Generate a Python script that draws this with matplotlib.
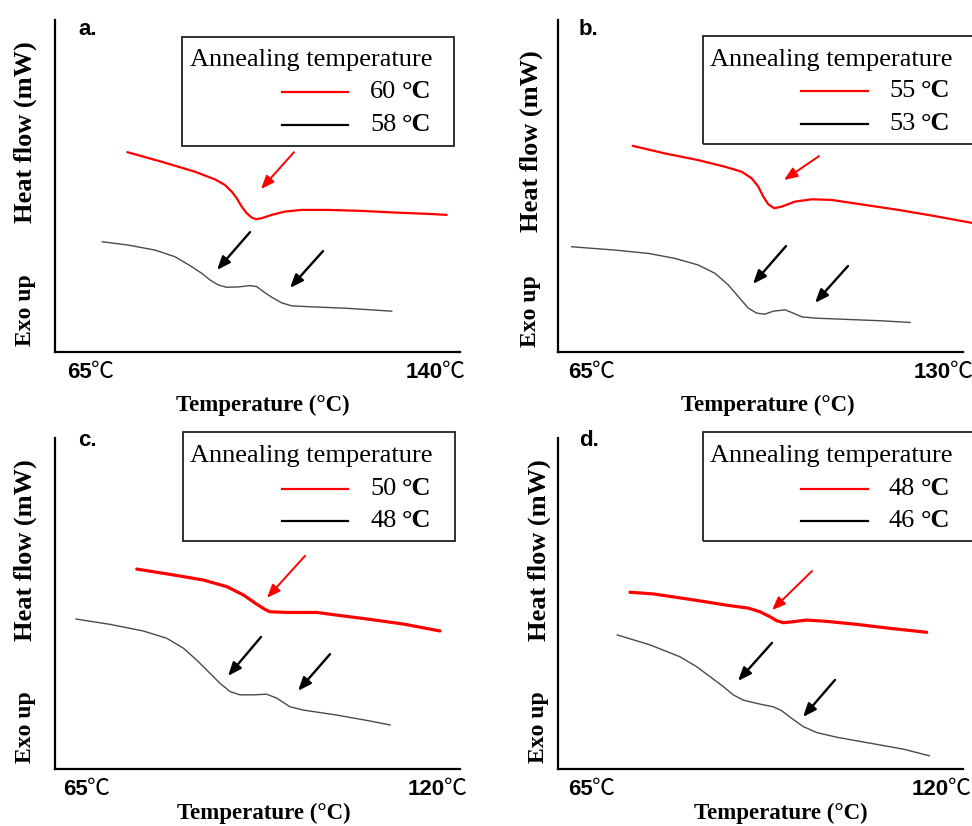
import matplotlib
matplotlib.use("Agg")
import matplotlib.pyplot as plt
from matplotlib.patches import Rectangle
from matplotlib.lines import Line2D
from matplotlib import transforms

# ---------------- data: DSC heating scans (heat flow in arbitrary units) ----------------
panel_ids = ["a.", "b.", "c.", "d."]
xlims = [(57.09, 143.63), (58.65, 132.18), (59.92, 122.31), (59.59, 122.16)]
tick_temps = [(65, 140), (65, 130), (65, 120), (65, 120)]
anneal_labels = [("60", "58"), ("55", "53"), ("50", "48"), ("48", "46")]

# panel a
a_hi_T = [72.54, 79.89, 87.01, 91.28, 93.42, 94.85, 95.92, 96.98, 98.05, 99.12, 100.04, 101.26,
          103.39, 106.24, 109.80, 115.49, 122.63, 129.74, 136.86, 140.79]
a_hi_q = [6.02, 5.73, 5.43, 5.20, 5.03, 4.83, 4.63, 4.38, 4.18, 4.05, 4.00, 4.03,
          4.13, 4.23, 4.28, 4.28, 4.25, 4.20, 4.16, 4.13]
a_lo_T = [67.20, 72.75, 78.46, 82.73, 86.30, 88.44, 90.21, 91.98, 93.78, 96.26, 98.76, 100.19,
          101.60, 103.39, 105.53, 107.67, 111.94, 119.06, 129.04]
a_lo_q = [3.32, 3.22, 3.07, 2.87, 2.57, 2.37, 2.17, 2.02, 1.95, 1.96, 2.00, 1.97,
          1.82, 1.65, 1.48, 1.39, 1.36, 1.32, 1.23]

# panel b
b_hi_T = [72.21, 78.08, 84.12, 88.97, 92.00, 93.82, 95.02, 95.92, 96.83, 97.92, 99.27, 101.68,
          104.71, 108.34, 114.39, 120.44, 126.50, 133.76]
b_hi_q = [6.21, 5.98, 5.78, 5.58, 5.43, 5.23, 4.98, 4.68, 4.45, 4.33, 4.38, 4.53,
          4.60, 4.58, 4.43, 4.28, 4.11, 3.89]
b_lo_T = [61.14, 69.00, 75.04, 79.89, 84.12, 87.15, 89.57, 91.39, 93.20, 94.73, 96.23, 97.74,
          99.86, 101.37, 102.90, 105.31, 111.36, 117.42, 122.56]
b_lo_q = [3.17, 3.07, 2.97, 2.82, 2.62, 2.37, 2.02, 1.67, 1.32, 1.17, 1.14, 1.23,
          1.27, 1.17, 1.06, 1.02, 0.98, 0.94, 0.89]

# panel c
c_hi_T = [72.51, 77.64, 82.77, 86.37, 88.93, 90.99, 92.27, 93.04, 95.62, 100.24, 103.32, 108.45,
          113.58, 119.23]
c_hi_q = [6.04, 5.88, 5.71, 5.51, 5.26, 4.98, 4.82, 4.75, 4.73, 4.73, 4.65, 4.52,
          4.38, 4.17]
c_lo_T = [63.16, 68.39, 73.52, 77.13, 79.69, 81.75, 83.80, 85.34, 86.88, 88.42, 90.47, 92.53,
          94.08, 96.12, 98.17, 103.32, 108.45, 111.53]
c_lo_q = [4.53, 4.37, 4.17, 3.95, 3.65, 3.29, 2.89, 2.59, 2.34, 2.24, 2.24, 2.26,
          2.14, 1.88, 1.78, 1.63, 1.45, 1.33]

# panel d
d_hi_T = [70.71, 74.31, 80.49, 85.65, 88.99, 90.80, 92.34, 93.38, 94.40, 95.94, 98.01, 101.10,
          105.74, 110.88, 116.55]
d_hi_q = [5.34, 5.29, 5.11, 4.95, 4.86, 4.75, 4.60, 4.48, 4.42, 4.45, 4.50, 4.46,
          4.37, 4.25, 4.13]
d_lo_T = [68.75, 73.80, 78.44, 81.02, 83.07, 85.13, 86.67, 88.22, 90.80, 92.85, 94.15, 95.69,
          97.49, 99.56, 102.65, 107.79, 112.94, 116.95]
d_lo_q = [4.05, 3.75, 3.39, 3.09, 2.79, 2.49, 2.24, 2.08, 1.96, 1.88, 1.76, 1.53,
          1.28, 1.10, 0.96, 0.78, 0.60, 0.40]

# transition markers: (tail T, tail q, head T, head q)
a_marks = [(108.16, 6.02, 101.11, 4.91), (98.76, 3.61, 91.71, 2.47), (114.36, 3.04, 107.30, 1.93)]
b_marks = [(106.04, 5.90, 99.68, 5.18), (100.05, 3.19, 94.05, 2.05), (111.30, 2.59, 105.31, 1.48)]
c_marks = [(98.44, 6.44, 92.58, 5.17), (91.66, 3.99, 86.57, 2.81), (102.29, 3.47, 97.36, 2.36)]
d_marks = [(98.83, 5.98, 92.65, 4.80), (92.65, 3.81, 87.40, 2.66), (102.38, 2.69, 97.44, 1.57)]

curves = [
    (a_hi_T, a_hi_q, a_lo_T, a_lo_q, a_marks),
    (b_hi_T, b_hi_q, b_lo_T, b_lo_q, b_marks),
    (c_hi_T, c_hi_q, c_lo_T, c_lo_q, c_marks),
    (d_hi_T, d_hi_q, d_lo_T, d_lo_q, d_marks),
]

# ---------------- layout ----------------
W, H = 972, 826
fig = plt.figure(figsize=(W / 100, H / 100), dpi=100)
fig.patch.set_facecolor("white")

# axes boxes in pixels: left, top, right, bottom
boxes = [(55, 20, 460, 352), (558, 20, 963, 352), (55, 438, 460, 769), (558, 438, 963, 769)]
red_lw = [1.6, 1.6, 2.3, 2.3]

# legend / label geometry (axes fractions)
legend_geo = [
    dict(x0=0.314, x1=0.985, y0=0.621, y1=0.949, tx=0.333, ty=0.880, l0=0.560, l1=0.723, yr=0.783, yb=0.684, lx=0.778),
    dict(x0=0.358, x1=1.10, y0=0.627, y1=0.952, tx=0.375, ty=0.880, l0=0.600, l1=0.765, yr=0.786, yb=0.687, lx=0.817),
    dict(x0=0.316, x1=0.988, y0=0.689, y1=1.018, tx=0.333, ty=0.946, l0=0.560, l1=0.723, yr=0.846, yb=0.749, lx=0.778),
    dict(x0=0.358, x1=1.10, y0=0.689, y1=1.018, tx=0.375, ty=0.946, l0=0.600, l1=0.765, yr=0.846, yb=0.749, lx=0.817),
]
ylab_x = [-0.074, -0.067, -0.074, -0.047]
heat_y = [0.663, 0.636, 0.662, 0.662]
exo_y = [0.127, 0.123, 0.127, 0.127]
xlab_pos = [(0.514, -0.160), (0.519, -0.160), (0.516, -0.133), (0.551, -0.133)]
letter_pos = [(0.057, 0.970), (0.052, 0.970), (0.057, 0.991), (0.052, 0.991)]

SERIF = "Liberation Serif"
SANS = "Liberation Sans"
RED = "#ff0000"
GREY = "#4a4a4a"

for i, (l, t, r, b) in enumerate(boxes):
    ax = fig.add_axes([l / W, 1 - b / H, (r - l) / W, (b - t) / H])
    hiT, hiq, loT, loq, marks = curves[i]
    ax.plot(hiT, hiq, color=RED, lw=red_lw[i], solid_joinstyle="round",
            solid_capstyle="round", clip_on=False)
    ax.plot(loT, loq, color=GREY, lw=1.0, solid_joinstyle="round", clip_on=False)
    ax.set_xlim(*xlims[i])
    ax.set_ylim(0, 10)

    for j, (xt, yt, xh, yh) in enumerate(marks):
        col = RED if j == 0 else "black"
        lw = 1.4 if j == 0 else 1.7
        ax.annotate("", xy=(xh, yh), xytext=(xt, yt),
                    arrowprops=dict(arrowstyle="-|>,head_length=0.8,head_width=0.32",
                                    color=col, lw=lw, shrinkA=0, shrinkB=0))

    for side in ("top", "right"):
        ax.spines[side].set_visible(False)
    for side in ("left", "bottom"):
        ax.spines[side].set_linewidth(1.6)
        ax.spines[side].set_color("black")
    ax.set_xticks([])
    ax.set_yticks([])

    # temperature tick labels: bold number + thin ℃ sign
    trans = transforms.blended_transform_factory(ax.transData, ax.transAxes)
    for tv in tick_temps[i]:
        ax.annotate(str(tv), xy=(tv, 0), xycoords=trans, xytext=(0, -19), textcoords="offset points",
                    ha="right", va="baseline", fontsize=16, fontweight="bold", family=SANS,
                    annotation_clip=False)
        ax.annotate("℃", xy=(tv, 0), xycoords=trans, xytext=(-1, -19), textcoords="offset points",
                    ha="left", va="baseline", fontsize=16.5,
                    family=["Noto Sans CJK SC", "DejaVu Sans"], annotation_clip=False)

    # axis titles
    ax.text(ylab_x[i], heat_y[i], "Heat flow (mW)", transform=ax.transAxes, rotation=90,
            ha="center", va="center", fontsize=19, fontweight="bold", family=SERIF)
    ax.text(ylab_x[i], exo_y[i], "Exo up", transform=ax.transAxes, rotation=90,
            ha="center", va="center", fontsize=17, fontweight="bold", family=SERIF)
    ax.text(xlab_pos[i][0], xlab_pos[i][1], "Temperature (°C)", transform=ax.transAxes,
            ha="center", va="center", fontsize=16.5, fontweight="bold", family=SERIF)
    ax.text(letter_pos[i][0], letter_pos[i][1], panel_ids[i], transform=ax.transAxes,
            ha="left", va="center", fontsize=16, fontweight="bold", family=SANS)

    # legend box
    g = legend_geo[i]
    ax.add_patch(Rectangle((g["x0"], g["y0"]), g["x1"] - g["x0"], g["y1"] - g["y0"],
                           transform=ax.transAxes, fill=False, edgecolor="#222222",
                           lw=1.3, clip_on=False))
    ax.text(g["tx"], g["ty"], "Annealing temperature", transform=ax.transAxes,
            ha="left", va="center", fontsize=19, family=SERIF)
    hi_lab, lo_lab = anneal_labels[i]
    for yy, col, lab in ((g["yr"], RED, hi_lab), (g["yb"], "black", lo_lab)):
        ax.add_line(Line2D([g["l0"], g["l1"]], [yy, yy], transform=ax.transAxes,
                           color=col, lw=1.6, clip_on=False))
        num = ax.text(g["lx"], yy, lab, transform=ax.transAxes, ha="left", va="center",
                      fontsize=19, family=SERIF)
        ax.annotate("°C", xy=(1, 0), xycoords=num, xytext=(4, 0), textcoords="offset points",
                    ha="left", va="bottom", fontsize=19, fontweight="bold", family=SERIF,
                    annotation_clip=False)

fig.savefig("out.png", dpi=100, facecolor="white")
